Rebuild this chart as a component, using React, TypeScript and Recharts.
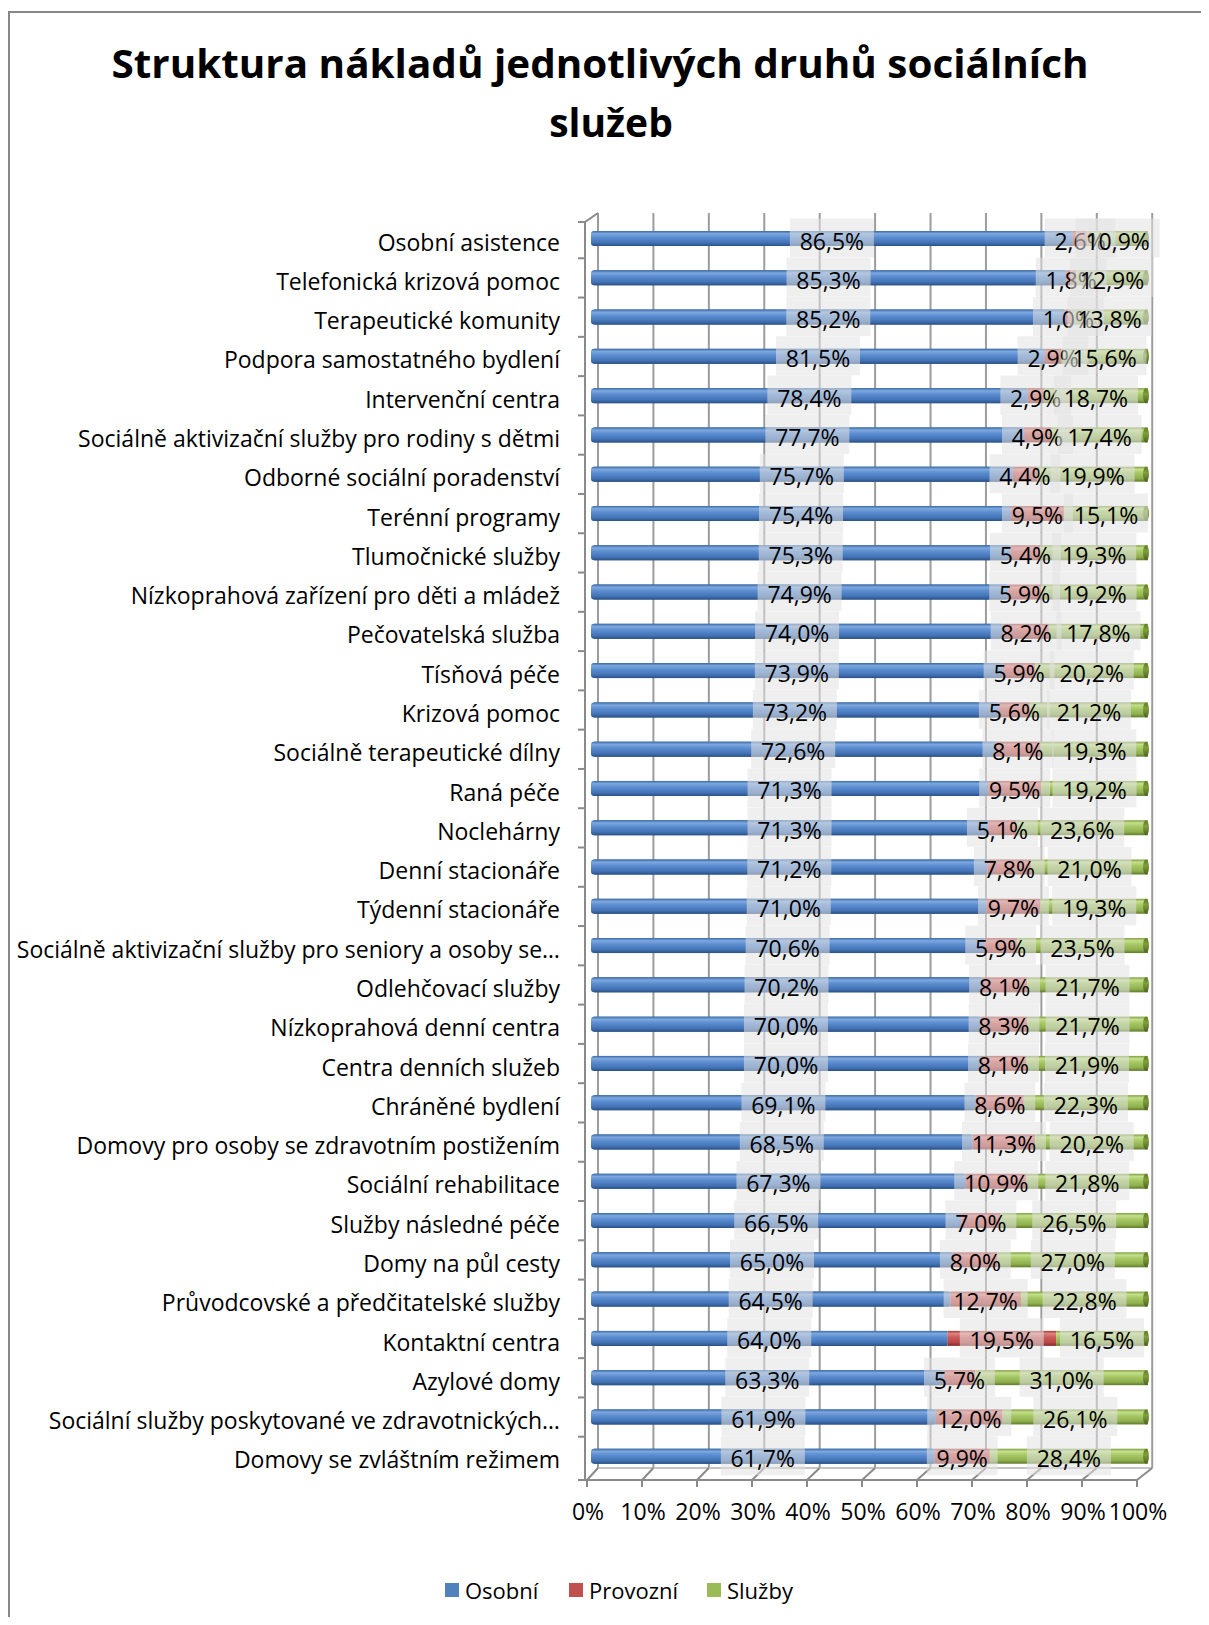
import React from 'react';
import { BarChart, Bar, XAxis, YAxis, CartesianGrid, LabelList } from 'recharts';

const categories = [
  'Osobní asistence',
  'Telefonická krizová pomoc',
  'Terapeutické komunity',
  'Podpora samostatného bydlení',
  'Intervenční centra',
  'Sociálně aktivizační služby pro rodiny s dětmi',
  'Odborné sociální poradenství',
  'Terénní programy',
  'Tlumočnické služby',
  'Nízkoprahová zařízení pro děti a mládež',
  'Pečovatelská služba',
  'Tísňová péče',
  'Krizová pomoc',
  'Sociálně terapeutické dílny',
  'Raná péče',
  'Noclehárny',
  'Denní stacionáře',
  'Týdenní stacionáře',
  'Sociálně aktivizační služby pro seniory a osoby se…',
  'Odlehčovací služby',
  'Nízkoprahová denní centra',
  'Centra denních služeb',
  'Chráněné bydlení',
  'Domovy pro osoby se zdravotním postižením',
  'Sociální rehabilitace',
  'Služby následné péče',
  'Domy na půl cesty',
  'Průvodcovské a předčitatelské služby',
  'Kontaktní centra',
  'Azylové domy',
  'Sociální služby poskytované ve zdravotnických…',
  'Domovy se zvláštním režimem',
];

const osobni = [86.5, 85.3, 85.2, 81.5, 78.4, 77.7, 75.7, 75.4, 75.3, 74.9, 74.0, 73.9, 73.2, 72.6, 71.3, 71.3, 71.2, 71.0, 70.6, 70.2, 70.0, 70.0, 69.1, 68.5, 67.3, 66.5, 65.0, 64.5, 64.0, 63.3, 61.9, 61.7];
const provozni = [2.6, 1.8, 1.0, 2.9, 2.9, 4.9, 4.4, 9.5, 5.4, 5.9, 8.2, 5.9, 5.6, 8.1, 9.5, 5.1, 7.8, 9.7, 5.9, 8.1, 8.3, 8.1, 8.6, 11.3, 10.9, 7.0, 8.0, 12.7, 19.5, 5.7, 12.0, 9.9];
const sluzby = [10.9, 12.9, 13.8, 15.6, 18.7, 17.4, 19.9, 15.1, 19.3, 19.2, 17.8, 20.2, 21.2, 19.3, 19.2, 23.6, 21.0, 19.3, 23.5, 21.7, 21.7, 21.9, 22.3, 20.2, 21.8, 26.5, 27.0, 22.8, 16.5, 31.0, 26.1, 28.4];

const xTicks = [0, 0.1, 0.2, 0.3, 0.4, 0.5, 0.6, 0.7, 0.8, 0.9, 1];

const data = categories.map((name, i) => ({
  name,
  osobni: osobni[i],
  provozni: provozni[i],
  sluzby: sluzby[i],
}));

const W = 1209;
const H = 1625;
const PLOT_TOP = 219;
const PLOT_BOTTOM = 1476;
const PLOT_LEFT = 591;
const PLOT_RIGHT = 1148;
const XAXIS_H = 60;
const BAND = (PLOT_BOTTOM - PLOT_TOP) / categories.length;
const FONT = '"Open Sans", "Noto Sans", sans-serif';
const FS = 23;
const AXIS = '#8a8a8a';

const fmt = (v: number) => v.toFixed(1).replace('.', ',') + '%';

const textWidth = (s: string, size: number) => {
  let w = 0;
  for (const ch of s) {
    if (ch === ',') w += 0.25;
    else if (ch === '%') w += 0.817;
    else w += 0.572;
  }
  return w * size;
};

const frontX = (x: number) => x - 4 - 0.0126 * (x - PLOT_LEFT);
const backX = (x: number) => x + 7 - 0.005 * (x - PLOT_LEFT);

const gridLine = (props: any) => {
  const xb = backX(props.x1);
  return (
    <line
      key={`grid-${props.index}`}
      x1={xb}
      x2={xb}
      y1={PLOT_TOP - 6}
      y2={PLOT_BOTTOM - 8}
      stroke="#9c9c9c"
      strokeWidth={2}
    />
  );
};

const CategoryTick = (props: any) => {
  const { y, payload, index } = props;
  const lx = PLOT_LEFT - 6;
  const top = y - BAND / 2;
  const bot = y + BAND / 2;
  const last = index === categories.length - 1;
  return (
    <g>
      <text
        x={560}
        y={y + 3}
        textAnchor="end"
        dominantBaseline="central"
        fontSize={FS}
        fontFamily={FONT}
        fill="#000"
      >
        {payload.value}
      </text>
      <line x1={lx} x2={lx} y1={index === 0 ? top + 3 : top} y2={last ? bot + 4 : bot} stroke={AXIS} strokeWidth={2} />
      <line x1={lx - 7} x2={lx} y1={last ? bot + 4 : bot} y2={last ? bot + 4 : bot} stroke={AXIS} strokeWidth={2} />
      {index === 0 && (
        <>
          <line x1={lx - 7} x2={lx} y1={top + 3} y2={top + 3} stroke={AXIS} strokeWidth={2} />
          <line x1={lx} x2={lx + 13} y1={top + 3} y2={top - 6} stroke={AXIS} strokeWidth={2} />
        </>
      )}
    </g>
  );
};

const FloorTick = (props: any) => {
  const { x, payload, index } = props;
  const xf = frontX(x);
  const xb = backX(x);
  const yf = PLOT_BOTTOM + 4;
  const yb = PLOT_BOTTOM - 8;
  const step = (PLOT_RIGHT - PLOT_LEFT) / 10;
  return (
    <g>
      <line x1={xf} y1={yf} x2={xb} y2={yb} stroke={AXIS} strokeWidth={2} />
      <line x1={xf} y1={yf} x2={xf} y2={yf + 7} stroke={AXIS} strokeWidth={2} />
      {index < 10 && (
        <>
          <line x1={xf} y1={yf} x2={frontX(x + step)} y2={yf} stroke={AXIS} strokeWidth={2} />
          <line x1={xb} y1={yb} x2={backX(x + step)} y2={yb} stroke="#b0b0b0" strokeWidth={1.5} />
        </>
      )}
      {index === 0 && <line x1={PLOT_LEFT - 7} y1={yf} x2={xf} y2={yf} stroke={AXIS} strokeWidth={2} />}
      <text
        x={xf + 1}
        y={PLOT_BOTTOM + 35}
        textAnchor="middle"
        dominantBaseline="central"
        fontSize={FS}
        fontFamily={FONT}
        fill="#000"
      >
        {Math.round(payload.value * 100)}%
      </text>
    </g>
  );
};

const CylShape = (props: any) => {
  const { x, y, width, height, fillId, roundLeft, capFill } = props;
  if (!width || width <= 0) return null;
  const r = roundLeft ? 3 : 0;
  return (
    <g>
      <rect x={x} y={y} width={width} height={height} rx={r} ry={r} fill={`url(#${fillId})`} />
      {roundLeft && <rect x={x + 3} y={y} width={Math.max(width - 3, 0)} height={height} fill={`url(#${fillId})`} />}
      {capFill && <ellipse cx={x + width - 2} cy={y + height / 2} rx={3} ry={height / 2} fill={capFill} />}
    </g>
  );
};

const boxLabel = (props: any) => {
  const vb = props.viewBox || {};
  const x = props.x ?? vb.x;
  const y = props.y ?? vb.y;
  const width = props.width ?? vb.width;
  const height = props.height ?? vb.height;
  const value = props.value;
  if (value == null || x == null) return null;
  const cx = x + width / 2;
  const cy = y + height / 2;
  const text = fmt(Number(value));
  const tw = textWidth(text, FS);
  return (
    <g>
      <rect x={cx - tw / 2 - 10} y={cy - 20} width={tw + 20} height={39} fill="#e1e1e1" fillOpacity={0.55} />
      <text
        x={cx}
        y={cy + 2}
        textAnchor="middle"
        dominantBaseline="central"
        fontSize={FS}
        fontFamily={FONT}
        fill="#000"
      >
        {text}
      </text>
    </g>
  );
};

const legendItems = [
  { name: 'Osobní', color: '#4F81BD' },
  { name: 'Provozní', color: '#C0504D' },
  { name: 'Služby', color: '#9BBB59' },
];

export default function App() {
  return (
    <div
      style={{
        position: 'relative',
        width: W,
        height: H,
        margin: -8,
        overflow: 'hidden',
        background: '#fff',
        fontFamily: FONT,
      }}
    >
      <div
        style={{
          position: 'absolute',
          left: 8,
          top: 11,
          width: 1400,
          height: 1800,
          border: '2px solid #878787',
        }}
      />
      <svg width={W} height={160} style={{ position: 'absolute', left: 0, top: 0 }}>
        <text
          x={600}
          y={78}
          textAnchor="middle"
          fontSize={39}
          fontWeight={700}
          fontFamily={FONT}
          textLength={977}
          lengthAdjust="spacingAndGlyphs"
        >
          Struktura nákladů jednotlivých druhů sociálních
        </text>
        <text x={611} y={137} textAnchor="middle" fontSize={39} fontWeight={700} fontFamily={FONT}>
          služeb
        </text>
      </svg>
      <div style={{ position: 'absolute', left: 0, top: 0 }}>
        <BarChart
          width={W}
          height={H}
          data={data}
          layout="vertical"
          stackOffset="expand"
          barCategoryGap={0}
          margin={{ top: PLOT_TOP, right: W - PLOT_RIGHT, bottom: H - PLOT_BOTTOM - XAXIS_H, left: 0 }}
        >
          <defs>
            <linearGradient id="gBlue" x1="0" y1="0" x2="0" y2="1">
              <stop offset="0" stopColor="#3b6aa6" />
              <stop offset="0.18" stopColor="#7ea8de" />
              <stop offset="0.42" stopColor="#5b8dd0" />
              <stop offset="0.78" stopColor="#4373b5" />
              <stop offset="1" stopColor="#2a5187" />
            </linearGradient>
            <linearGradient id="gRed" x1="0" y1="0" x2="0" y2="1">
              <stop offset="0" stopColor="#9c3a37" />
              <stop offset="0.18" stopColor="#e2827f" />
              <stop offset="0.42" stopColor="#cc5c59" />
              <stop offset="0.78" stopColor="#b64744" />
              <stop offset="1" stopColor="#842926" />
            </linearGradient>
            <linearGradient id="gGreen" x1="0" y1="0" x2="0" y2="1">
              <stop offset="0" stopColor="#7f9c3f" />
              <stop offset="0.18" stopColor="#c4e08c" />
              <stop offset="0.42" stopColor="#a7c865" />
              <stop offset="0.78" stopColor="#8fb04e" />
              <stop offset="1" stopColor="#617a2a" />
            </linearGradient>
            <linearGradient id="gCap" x1="0" y1="0" x2="0" y2="1">
              <stop offset="0" stopColor="#5e7a25" />
              <stop offset="0.4" stopColor="#7fa03a" />
              <stop offset="1" stopColor="#4c6420" />
            </linearGradient>
          </defs>
          <CartesianGrid horizontal={false} vertical={gridLine} />
          <XAxis
            type="number"
            domain={[0, 1]}
            ticks={xTicks}
            interval={0}
            height={XAXIS_H}
            axisLine={false}
            tickLine={false}
            tick={<FloorTick />}
          />
          <YAxis
            type="category"
            dataKey="name"
            width={PLOT_LEFT}
            interval={0}
            axisLine={false}
            tickLine={false}
            tick={<CategoryTick />}
          />
          <Bar
            dataKey="osobni"
            stackId="a"
            barSize={15}
            isAnimationActive={false}
            shape={<CylShape fillId="gBlue" roundLeft />}
          >
            <LabelList dataKey="osobni" content={boxLabel} />
          </Bar>
          <Bar
            dataKey="provozni"
            stackId="a"
            barSize={15}
            isAnimationActive={false}
            shape={<CylShape fillId="gRed" />}
          >
            <LabelList dataKey="provozni" content={boxLabel} />
          </Bar>
          <Bar
            dataKey="sluzby"
            stackId="a"
            barSize={15}
            isAnimationActive={false}
            shape={<CylShape fillId="gGreen" capFill="url(#gCap)" />}
          >
            <LabelList dataKey="sluzby" content={boxLabel} />
          </Bar>
        </BarChart>
      </div>
      <div
        style={{
          position: 'absolute',
          top: 1576,
          left: 0,
          width: W,
          fontSize: 22,
          lineHeight: '28px',
        }}
      >
        {legendItems.map((item, i) => (
          <div
            key={item.name}
            style={{
              position: 'absolute',
              left: [445, 569, 707][i],
              display: 'flex',
              alignItems: 'center',
            }}
          >
            <div style={{ width: 14, height: 14, background: item.color, marginRight: 6 }} />
            <span>{item.name}</span>
          </div>
        ))}
      </div>
    </div>
  );
}
